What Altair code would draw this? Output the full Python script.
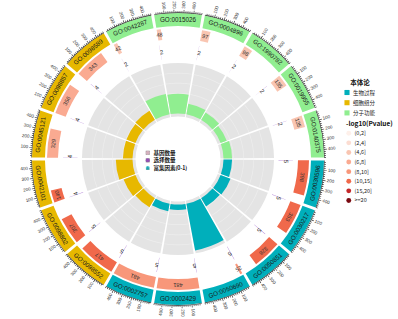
import math
import altair as alt
import pandas as pd

# ---------------- data ----------------
terms = ["GO:0015026", "GO:0004896", "GO:1990782", "GO:0019955", "GO:0140375",
         "GO:0030596", "GO:0030217", "GO:0050851", "GO:0050690", "GO:0002429", "GO:0002757",
         "GO:0098552", "GO:0098802", "GO:0042101", "GO:0045121", "GO:0098857", "GO:0098589",
         "GO:0042287"]
ontology = (["分子功能"] * 5 + ["生物过程"] * 6 + ["细胞组分"] * 6 + ["分子功能"])
gene_num = [48, 97, 98, 135, 135, 398, 353, 328, 25, 481, 481, 417, 307, 140, 329, 356, 343, 42]
select_num = [2, 2, 2, 2, 2, 5, 5, 5, 5, 5, 5, 5, 5, 4, 4, 4, 4, 2]
rich_factor = [0.39, 0.21, 0.17, 0.13, 0.17, 0.17, 0.21, 0.19, 0.94, 0.11, 0.15,
               0.21, 0.25, 0.33, 0.19, 0.19, 0.21, 0.41]
p_class = ["(4,6]", "(4,6]", "(4,6]", "(4,6]", "(4,6]",
           "(10,15]", "(10,15]", "(10,15]", "(8,10]", "(8,10]", "(8,10]",
           "(10,15]", "(10,15]", "(10,15]", "(6,8]", "(6,8]", "(6,8]", "(4,6]"]
p_levels = ["(0,2]", "(2,4]", "(4,6]", "(6,8]", "(8,10]", "(10,15]", "(15,20]", ">=20"]
p_colors = ["#FEF0EA", "#FCDDD2", "#F9C5B1", "#FAAA91", "#F8977A", "#F0694B", "#C4282A", "#7A0A12"]
ont_levels = ["生物过程", "细胞组分", "分子功能"]
ont_colors = ["#00AFBB", "#E7B800", "#90EE90"]
center_items = ["基因数量", "选择数量", "富集因素(0-1)"]
center_colors = ["#F6C3D5", "#9A3AC6", "#00AFBB"]
center_shapes = ["square", "square", "triangle-up"]
tick_step = 20
tick_label_step = 100

# ---------------- layout ----------------
CX, CY = 178, 159
SECT = 360 / len(terms)
GAP = 1.2
SPAN = SECT - GAP
XMAX = max(gene_num)

rows = []
for i, t in enumerate(terms):
    c = SECT * i
    a0 = c - SECT / 2 + GAP / 2
    a1 = c + SECT / 2 - GAP / 2
    be = a0 + gene_num[i] / XMAX * SPAN
    se = a0 + select_num[i] / XMAX * SPAN
    go_rot = c if (c <= 90 or c >= 270) else c - 180
    rows.append(dict(term=t, ont=ontology[i], gene=gene_num[i], sel=select_num[i],
                     rf=rich_factor[i], pc=p_class[i], a0=a0, a1=a1, c=c, be=be, se=se,
                     bm=(a0 + be) / 2, sm=(a0 + se) / 2 + 0.6,
                     brot=((a0 + be) / 2) % 360, srot=((a0 + se) / 2) % 360,
                     gorot=go_rot % 360))
df = pd.DataFrame(rows)

ticks = []
for i, r in df.iterrows():
    v = tick_step
    while v <= XMAX:
        t = r.a0 + v / XMAX * SPAN
        major = (v % tick_label_step == 0)
        ticks.append(dict(t0=t - 0.13, t1=t + 0.13, t=t, v=str(v), major=major,
                          right=(t % 360) <= 180,
                          rot=((t - 90) % 360) if (t % 360) <= 180 else ((t - 270) % 360)))
        v += tick_step
tk = pd.DataFrame(ticks)

TH = alt.Scale(domain=[0, 360], range=[0, 2 * math.pi])
XC, YC = alt.value(CX), alt.value(CY)


def th(f):
    return alt.Theta(f"{f}:Q", scale=TH, stack=None)


def th2(f):
    return alt.Theta2(f"{f}:Q")


def ring(data, t0, t1, r_out, r_in, **kw):
    return alt.Chart(data).mark_arc(**kw).encode(
        x=XC, y=YC, theta=th(t0), theta2=th2(t1),
        radius=alt.value(r_out), radius2=alt.value(r_in))


layers = []
# gray background track
layers.append(ring(df, "a0", "a1", 96, 42.5, color="#E4E4E4"))
for k in range(1, 5):
    rr = 45.5 + 50.5 * k / 5
    layers.append(ring(df, "a0", "a1", rr + 0.35, rr - 0.35, color="#EDEDED"))

# rich factor bars
layers.append(alt.Chart(df).mark_arc().encode(
    x=XC, y=YC, theta=th("a0"), theta2=th2("a1"),
    radius=alt.Radius("rf:Q", scale=alt.Scale(type="linear", domain=[0, 1], range=[45.5, 96], zero=False)),
    radius2=alt.value(45.5),
    color=alt.Color("ont:N", scale=alt.Scale(domain=ont_levels, range=ont_colors), legend=None)))

# outer ontology ring
layers.append(alt.Chart(df).mark_arc().encode(
    x=XC, y=YC, theta=th("a0"), theta2=th2("a1"),
    radius=alt.value(146), radius2=alt.value(133),
    color=alt.Color("ont:N", scale=alt.Scale(domain=ont_levels, range=ont_colors),
                    legend=alt.Legend(title="本体论", orient="none", legendX=344, legendY=80,
                                      symbolType="square", symbolSize=26, titleAnchor="middle",
                                      titleFontSize=6.5, titleFontWeight="bold", labelFontSize=5.5,
                                      rowPadding=3.2, titlePadding=3, labelOffset=3,
                                      symbolStrokeWidth=0))))

# axis line + ticks
layers.append(ring(df, "a0", "a1", 146.7, 146.1, color="#333333"))
layers.append(alt.Chart(tk).transform_filter("datum.major").mark_arc(color="#333333").encode(
    x=XC, y=YC, theta=th("t0"), theta2=th2("t1"), radius=alt.value(149.2), radius2=alt.value(146.2)))
layers.append(alt.Chart(tk).transform_filter("!datum.major").mark_arc(color="#333333").encode(
    x=XC, y=YC, theta=th("t0"), theta2=th2("t1"), radius=alt.value(148.0), radius2=alt.value(146.2)))
layers.append(alt.Chart(tk).transform_filter("datum.major && datum.right").mark_text(
    align="left", baseline="middle", fontSize=4.5, color="#333333", font="Liberation Sans").encode(
    x=XC, y=YC, theta=th("t"), radius=alt.value(150.3), text="v:N", angle=alt.Angle("rot:Q", scale=None)))
layers.append(alt.Chart(tk).transform_filter("datum.major && !datum.right").mark_text(
    align="right", baseline="middle", fontSize=4.5, color="#333333", font="Liberation Sans").encode(
    x=XC, y=YC, theta=th("t"), radius=alt.value(150.3), text="v:N", angle=alt.Angle("rot:Q", scale=None)))

# gene number boxes
layers.append(alt.Chart(df).mark_arc().encode(
    x=XC, y=YC, theta=th("a0"), theta2=th2("be"),
    radius=alt.value(131), radius2=alt.value(120),
    fill=alt.Fill("pc:N", scale=alt.Scale(domain=p_levels, range=p_colors),
                  legend=alt.Legend(title="-log10(Pvalue)", orient="none", legendX=346, legendY=121,
                                    symbolType="circle", symbolSize=24, titleFontSize=6.5,
                                    titleFontWeight="bold", labelFontSize=5.5, rowPadding=2.6,
                                    titlePadding=3, labelOffset=3, symbolStrokeWidth=0))))
layers.append(alt.Chart(df).mark_text(fontSize=5.6, color="#333333", baseline="middle",
                                      font="Liberation Sans").encode(
    x=XC, y=YC, theta=th("bm"), radius=alt.value(125.5), text="gene:N",
    angle=alt.Angle("brot:Q", scale=None)))

# selected number bars + labels
layers.append(ring(df, "a0", "se", 115, 100.5, color="#B58AD8"))
layers.append(alt.Chart(df).mark_text(fontSize=6, color="#222222", baseline="middle",
                                      font="Liberation Sans").encode(
    x=XC, y=YC, theta=th("sm"), radius=alt.value(108), text="sel:N",
    angle=alt.Angle("srot:Q", scale=None)))

# GO term labels in the outer ring
layers.append(alt.Chart(df).mark_text(fontSize=6.3, color="#1A1A1A", baseline="middle",
                                      font="Liberation Sans").encode(
    x=XC, y=YC, theta=th("c"), radius=alt.value(139.5), text="term:N",
    angle=alt.Angle("gorot:Q", scale=None)))

# center legend (legend only)
cdf = pd.DataFrame({"item": center_items})
layers.append(alt.Chart(cdf).transform_filter("false").mark_point(filled=True).encode(
    color=alt.Color("item:N", scale=alt.Scale(domain=center_items, range=center_colors),
                    legend=alt.Legend(title=None, orient="none", legendX=145, legendY=150,
                                      symbolSize=16, labelFontSize=5.5, rowPadding=0.6,
                                      labelOffset=3, symbolStrokeWidth=0)),
    shape=alt.Shape("item:N", scale=alt.Scale(domain=center_items, range=center_shapes),
                    legend=alt.Legend(title=None, orient="none", legendX=145, legendY=150,
                                      symbolSize=16, labelFontSize=5.5, rowPadding=0.6,
                                      labelOffset=3, symbolStrokeWidth=0))))

chart = alt.layer(*layers).resolve_scale(color="independent").properties(
    width=398, height=319, padding=0,
    autosize=alt.AutoSizeParams(type="none")
).configure_view(stroke=None).configure_legend(
    labelFont="Noto Sans CJK SC", titleFont="Noto Sans CJK SC", labelColor="#222222",
    titleColor="#111111"
)

chart.save("out.html", embed_options={"renderer": "svg", "actions": False})
